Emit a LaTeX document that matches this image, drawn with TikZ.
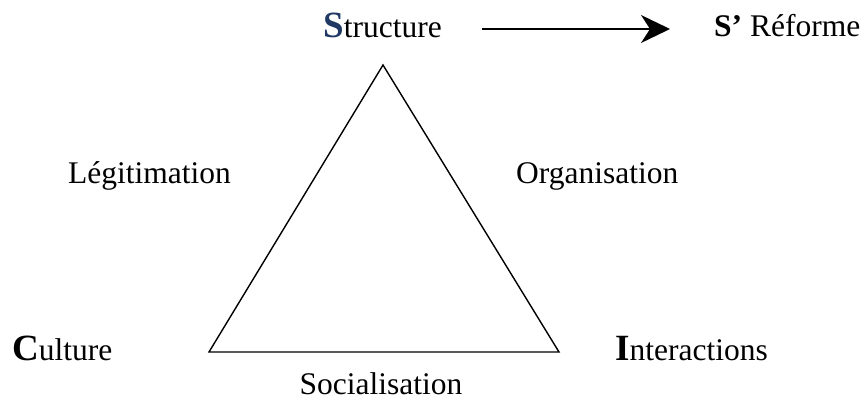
\documentclass[tikz,border=0pt]{standalone}
\usepackage{fontspec}
\setmainfont{Liberation Serif}
\usetikzlibrary{arrows.meta}
\definecolor{bleuS}{HTML}{1F3864}
\newcommand{\initiale}[1]{{\fontsize{37}{44}\selectfont\bfseries #1}}

\begin{document}
\begin{tikzpicture}[x=1pt,y=-1pt,line cap=butt,line join=miter,
	font=\fontsize{31.5}{37}\selectfont,
	etiq/.style={inner sep=0pt,anchor=base west},
	cote/.style={line width=1.4pt}]
	\useasboundingbox (0,0) rectangle (866,400);
	%--------- Sommets
	\node[etiq] (structure) at (323,37) {\initiale{\textcolor{bleuS}{S}}tructure};
	\node[etiq] (culture) at (12,360) {\initiale{C}ulture};
	\node[etiq] (interactions) at (615,360) {\initiale{I}nteractions};
	\node[etiq] (reforme) at (714,36) {\textbf{S’} Réforme};
	%--------- Côtés
	\node[etiq] (legitimation) at (68,183) {Légitimation};
	\node[etiq] (organisation) at (516,183) {Organisation};
	\node[etiq,anchor=base] (socialisation) at (381,394) {Socialisation};
	%--------- Triangle
	\coordinate (haut) at (383,65);
	\coordinate (gauche) at (209,352);
	\coordinate (droite) at (559,352);
	\draw[cote] (haut) -- (droite) -- (gauche) -- cycle;
	%--------- Réforme
	\draw[line width=1.5pt,-{Stealth[length=29pt,width=28pt,inset=9pt]},
		shorten <=40pt,shorten >=44pt]
		([yshift=8pt]structure.base east) -- ([yshift=7pt]reforme.base west);
\end{tikzpicture}
\end{document}
